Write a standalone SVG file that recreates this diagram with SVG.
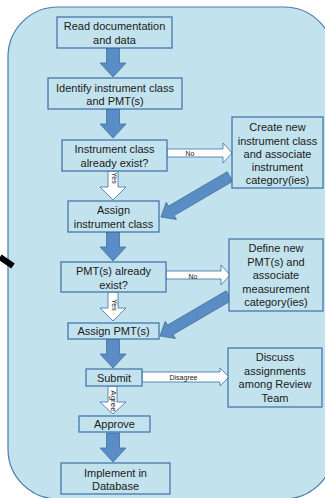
<svg xmlns="http://www.w3.org/2000/svg" width="325" height="498" viewBox="0 0 325 498">
<style>
.bg{fill:#c2e3ed;stroke:#4a7ab3;stroke-width:1.2}
.box{fill:#c2e3ed;stroke:#3b6ea8;stroke-width:1.2}
.t{font-family:"Liberation Sans",Arial,sans-serif;font-size:11px;fill:#1a1a1a;text-anchor:middle}
.s{font-family:"Liberation Sans",Arial,sans-serif;font-size:7px;fill:#222;text-anchor:middle}
.ba{fill:#5a8cc6;stroke:#41719c;stroke-width:0.8}
.wa{fill:#ffffff;stroke:#3b6ea8;stroke-width:0.8}
</style>
<defs>
<polygon id="down" points="-6.5,0 6.5,0 6.5,15 13,15 0,29 -13,15 -6.5,15"/>
<polygon id="wdown" points="-5,0 5,0 5,16 13,16 0,29 -13,16 -5,16"/>
<polygon id="diag" points="227.18,171.76 168.52,206.12 166.22,202.24 161,217 176.46,219.48 174.16,215.6 232.82,181.24"/>
</defs>
<rect class="bg" x="8" y="7" width="326" height="492" rx="50" ry="50"/>
<g id="connectors">
<line x1="0" y1="257" x2="13" y2="266" stroke="#000" stroke-width="6"/>
<use href="#down" class="ba" x="113" y="48"/>
<use href="#down" class="ba" x="113" y="109"/>
<use href="#down" class="ba" x="113" y="232"/>
<use href="#down" class="ba" x="113" y="339"/>
<use href="#down" class="ba" x="113" y="433"/>
<use href="#wdown" class="wa" x="113" y="171"/>
<use href="#wdown" class="wa" x="113" y="292"/>
<polygon class="wa" points="108,386 117,386 117,402 126,402 113,414 100,402 108,402"/>
<polygon class="wa" points="167,149 223,149 223,143 232,153 223,163 223,157 167,157"/>
<polygon class="wa" points="166,271 221,271 221,265 230,275 221,285 221,279 166,279"/>
<polygon class="wa" points="142,372 220,372 220,368 229,377 220,386 220,382 142,382"/>
<use href="#diag" class="ba"/>
<use href="#diag" class="ba" transform="translate(-1,119)"/>
<text class="s" x="190" y="155.5">No</text>
<text class="s" x="193" y="278.5">No</text>
<text class="s" x="183.5" y="379.5">Disagree</text>
<text class="s" transform="translate(111.5,178) rotate(90)">Yes</text>
<text class="s" transform="translate(111.5,305) rotate(90)">Yes</text>
<text class="s" style="font-size:8px" transform="translate(110.5,401) rotate(90)">Agree</text>
</g>
<g id="n1"><rect class="box" x="57" y="17" width="115" height="31"/>
<text class="t" x="114.5" y="30">Read documentation</text><text class="t" x="114.5" y="44">and data</text></g>
<g id="n2"><rect class="box" x="48" y="78" width="134" height="31"/>
<text class="t" x="115" y="92">Identify instrument class</text><text class="t" x="115" y="105">and PMT(s)</text></g>
<g id="n3"><rect class="box" x="62" y="140" width="105" height="31"/>
<text class="t" x="114.5" y="153">Instrument class</text><text class="t" x="114.5" y="167">already exist?</text></g>
<g id="n4"><rect class="box" x="232" y="117" width="91" height="71"/>
<text class="t" x="277.5" y="131">Create new</text><text class="t" x="277.5" y="144.5">instrument class</text><text class="t" x="277.5" y="158">and associate</text><text class="t" x="277.5" y="171">instrument</text><text class="t" x="277.5" y="184">category(ies)</text></g>
<g id="n5"><rect class="box" x="68" y="201" width="91" height="31"/>
<text class="t" x="113.5" y="214">Assign</text><text class="t" x="113.5" y="228">instrument class</text></g>
<g id="n6"><rect class="box" x="61" y="262" width="105" height="30"/>
<text class="t" x="113.5" y="275">PMT(s) already</text><text class="t" x="113.5" y="289">exist?</text></g>
<g id="n7"><rect class="box" x="229" y="239" width="94" height="72"/>
<text class="t" x="276" y="252">Define new</text><text class="t" x="276" y="266">PMT(s) and</text><text class="t" x="276" y="279">associate</text><text class="t" x="276" y="293">measurement</text><text class="t" x="276" y="306">category(ies)</text></g>
<g id="n8"><rect class="box" x="68" y="323" width="91" height="16"/>
<text class="t" x="113.5" y="335">Assign PMT(s)</text></g>
<g id="n9"><rect class="box" x="86" y="369" width="56" height="17"/>
<text class="t" x="114" y="382">Submit</text></g>
<g id="n10"><rect class="box" x="228" y="348" width="94" height="59"/>
<text class="t" x="275" y="361">Discuss</text><text class="t" x="275" y="375">assignments</text><text class="t" x="275" y="388">among Review</text><text class="t" x="275" y="402">Team</text></g>
<g id="n11"><rect class="box" x="79" y="416" width="71" height="16"/>
<text class="t" x="114.5" y="428">Approve</text></g>
<g id="n12"><rect class="box" x="61" y="463" width="109" height="31"/>
<text class="t" x="115.5" y="477">Implement in</text><text class="t" x="115.5" y="490">Database</text></g>
</svg>
